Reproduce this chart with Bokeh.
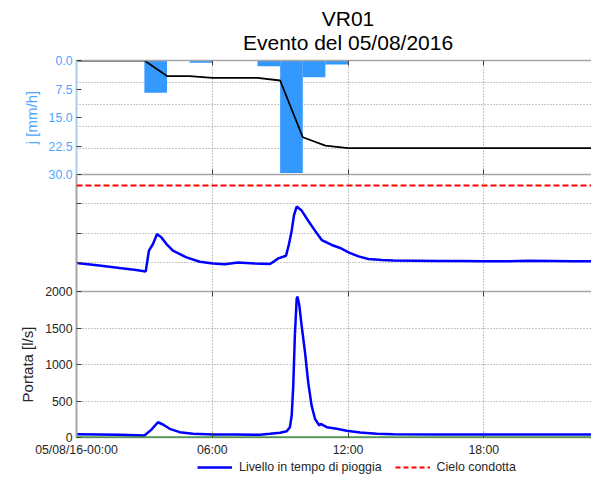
from bokeh.plotting import figure
from bokeh.layouts import column
from bokeh.models import (Range1d, LinearAxis, FixedTicker, Grid, Label, Legend,
                          LegendItem, ColumnDataSource, Span, PrintfTickFormatter,
                          CustomLabelingPolicy, CustomJSTickFormatter)
from bokeh.embed import file_html
from bokeh.resources import INLINE

# ---- time axis: hours from 05/08/16 00:00 ----
x_ticks = [0, 6, 12, 18, 24]
x_tick_labels = ["05/08/16-00:00", "06:00", "12:00", "18:00", "06/08/16-00:00"]
title_lines = ["VR01", "Evento del 05/08/2016"]

# ---- rainfall: hourly intensity [mm/h] ----
rain_start_h = [3, 5, 8, 9, 10, 11]
rain_mm_h = [8.5, 0.6, 1.5, 29.6, 4.4, 1.05]
rain_ticks = [0, 7.5, 15, 22.5, 30]

# ---- cumulative rainfall [mm] ----
cum_t = [0, 3, 4, 5, 6, 7, 8, 9, 10, 11, 12, 24]
cum_mm = [0, 0, 3.55, 3.55, 3.95, 3.95, 3.95, 4.56, 17.5, 19.4, 20.0, 20.0]
cum_ticks = [5, 10, 15, 20]

# ---- water level in wet weather [m] ----
level_t = [0, 1.0, 1.9, 2.64, 3.06, 3.2, 3.38, 3.56, 3.75, 4.0, 4.26, 4.86, 5.45,
           6.04, 6.55, 7.14, 7.88, 8.55, 8.75, 8.92, 9.26, 9.39, 9.51, 9.61, 9.73,
           9.95, 10.24, 10.54, 10.84, 11.28, 11.65, 12.02, 12.46, 12.9, 13.49, 14,
           15, 16, 17, 18, 19, 20, 21, 22, 23, 24]
level_m = [0.487, 0.445, 0.401, 0.367, 0.343, 0.697, 0.812, 0.984, 0.925, 0.80,
           0.697, 0.583, 0.509, 0.48, 0.465, 0.497, 0.48, 0.47, 0.52, 0.566, 0.612,
           0.81, 1.04, 1.30, 1.452, 1.383, 1.21, 1.04, 0.88, 0.795, 0.744, 0.668,
           0.60, 0.555, 0.538, 0.53, 0.525, 0.52, 0.522, 0.515, 0.518, 0.525, 0.52,
           0.515, 0.515, 0.515]
level_ticks = [0.5, 1.0, 1.5]
pipe_crown_m = 1.81

# ---- discharge [l/s] ----
flow_t = [0, 1.0, 1.9, 3.0, 3.3, 3.6, 3.82, 4.12, 4.56, 5.15, 6.04, 7.0, 8.1, 8.55,
          9.0, 9.29, 9.43, 9.51, 9.58, 9.65, 9.73, 9.76, 9.84, 9.95, 10.1, 10.24,
          10.39, 10.54, 10.73, 10.79, 11.06, 11.5, 11.94, 12.53, 13.27, 14, 16, 18,
          20, 22, 24]
flow_ls = [45, 42, 37, 27, 105, 209, 178, 119, 73, 50, 41, 40, 37, 50, 65, 86, 141,
           301, 711, 1394, 1896, 1930, 1828, 1531, 1166, 756, 437, 256, 164, 187,
           141, 119, 92, 68, 50, 45, 42, 40, 42, 40, 40]
flow_ticks = [0, 500, 1000, 1500, 2000]

FONT = "Liberation Sans"
GRID = "#8c8c8c"
BORDER = "#a6a6a6"
TICKC = "#404040"
TEXT = "#262626"
RAIN = "#3399ff"
RAIN_TEXT = "#4da6ff"
OVERLAP = 8   # room kept for tick labels that sit on a panel boundary

xr = Range1d(0, 22.76)

# tick marks only: drop every label of the axis
HIDE_LABELS_JS = """
try {
  for (const i of [...indices.ones()]) indices.unset(i)
} catch (e) {}
return indices
"""


def hide_labels(ax):
    ax.major_label_policy = CustomLabelingPolicy(code=HIDE_LABELS_JS)
    ax.formatter = CustomJSTickFormatter(code="return ''")
    ax.major_label_standoff = 0


def make_fig(frame_h, y_range, top=0, bottom=0, pull_up=0, x_grid=True):
    p = figure(frame_width=515, frame_height=frame_h, x_range=xr, y_range=y_range,
               x_axis_location=None, y_axis_location=None, title=None,
               min_border_left=76, min_border_right=0, min_border_top=top,
               min_border_bottom=bottom, toolbar_location=None, output_backend="svg",
               outline_line_color=None, background_fill_alpha=0, border_fill_alpha=0,
               margin=(-pull_up, 0, 0, 0))
    p.center = []   # grids are added explicitly below
    if x_grid:
        p.add_layout(Grid(dimension=0, ticker=FixedTicker(ticks=x_ticks[1:4]),
                          grid_line_color=GRID, grid_line_dash="1 2"))
    return p


def edge_axis(p, place, labels=False):
    ax = LinearAxis(ticker=FixedTicker(ticks=x_ticks if labels else x_ticks[1:4]))
    ax.major_tick_in = 5
    ax.major_tick_out = 0
    ax.minor_tick_in = 0
    ax.minor_tick_out = 0
    ax.axis_line_color = BORDER
    ax.axis_line_width = 1.5
    ax.major_tick_line_color = TICKC
    ax.major_label_text_font = FONT
    ax.major_label_text_font_size = "12.3px"
    ax.major_label_text_color = TEXT
    if labels:
        ax.major_label_overrides = dict(zip(x_ticks, x_tick_labels))
        ax.major_label_standoff = 5
    else:
        hide_labels(ax)
    p.add_layout(ax, place)
    return ax


def left_axis(p, ticks, color, line_color, show_labels=True, label=None):
    ax = LinearAxis(ticker=FixedTicker(ticks=ticks))
    ax.major_tick_in = 5
    ax.major_tick_out = 0
    ax.minor_tick_in = 0
    ax.minor_tick_out = 0
    ax.axis_line_color = line_color
    ax.axis_line_width = 2
    ax.major_tick_line_color = TICKC
    ax.major_label_text_font = FONT
    ax.major_label_text_color = color
    ax.major_label_text_font_size = "12.3px"
    if show_labels:
        ax.major_label_standoff = 4
    else:
        hide_labels(ax)
    if label:
        ax.axis_label = label
        ax.axis_label_text_font = FONT
        ax.axis_label_text_font_size = "15px"
        ax.axis_label_text_font_style = "normal"
        ax.axis_label_text_color = color
        ax.axis_label_standoff = 6
    p.add_layout(ax, "left")
    return ax


# ---- title strip (y in pixels above the strip bottom) ----
p0 = make_fig(60, Range1d(0, 60), x_grid=False)
for text, y_px in zip(title_lines, [42.2, 18.2]):
    p0.add_layout(Label(x=12, y=y_px, text=text, text_align="center",
                        text_baseline="alphabetic", text_font=FONT,
                        text_font_size="21px", text_color="black"))

# ---- panel 1: rainfall (inverted axis) and cumulative rainfall ----
p1 = make_fig(114, Range1d(30, 0), top=20, bottom=OVERLAP, pull_up=20)
p1.extra_y_ranges = {"cum": Range1d(26, 0)}
p1.add_layout(Grid(dimension=1, ticker=FixedTicker(ticks=cum_ticks), y_range_name="cum",
                   grid_line_color=GRID, grid_line_dash="1 2"))
p1.quad(left=rain_start_h, right=[s + 1 for s in rain_start_h], top=0, bottom=rain_mm_h,
        fill_color=RAIN, line_color=None)
p1.line(cum_t, cum_mm, y_range_name="cum", line_color="black", line_width=1.8)
ax1 = left_axis(p1, rain_ticks, RAIN_TEXT, "#a9cdef", label="j [mm/h]")
ax1.formatter = PrintfTickFormatter(format="%.1f")
edge_axis(p1, "below")
edge_axis(p1, "above")

# ---- panel 2: water level ----
p2 = make_fig(117, Range1d(0, 2), pull_up=OVERLAP)
p2.add_layout(Grid(dimension=1, ticker=FixedTicker(ticks=level_ticks),
                   grid_line_color=GRID, grid_line_dash="1 2"))
p2.line(level_t, level_m, line_color="blue", line_width=2.5)
p2.add_layout(Span(location=pipe_crown_m, dimension="width", line_color="red",
                   line_width=2, line_dash="6 3"))
left_axis(p2, level_ticks, TEXT, BORDER, show_labels=False)

# ---- panel 3: discharge ----
p3 = make_fig(146, Range1d(0, 2000), top=OVERLAP, bottom=40, pull_up=OVERLAP)
p3.add_layout(Grid(dimension=1, ticker=FixedTicker(ticks=flow_ticks[1:4]),
                   grid_line_color=GRID, grid_line_dash="1 2"))
p3.add_layout(Span(location=0, dimension="width", line_color="#008000", line_width=2))
p3.line(flow_t, flow_ls, line_color="blue", line_width=2.5)
left_axis(p3, flow_ticks, TEXT, BORDER, label="Portata [l/s]")
edge_axis(p3, "below", labels=True)
edge_axis(p3, "above")

# ---- legend strip, laid over the bottom margin of panel 3 ----
p4 = make_fig(22, Range1d(0, 1), pull_up=22, x_grid=False)
# legend-only renderers: one point with no value, so nothing is drawn in the strip
legend_src = ColumnDataSource(dict(x=[0.0, 0.0], y=[float("nan"), float("nan")]))
r_level = p4.line("x", "y", source=legend_src, line_color="blue", line_width=2.5)
r_crown = p4.line("x", "y", source=legend_src, line_color="red", line_width=2,
                  line_dash="5 3")
legend = Legend(items=[LegendItem(label="Livello in tempo di pioggia", renderers=[r_level]),
                       LegendItem(label="Cielo condotta", renderers=[r_crown])],
                orientation="horizontal", location=(121, 3), glyph_width=35,
                glyph_height=14, label_height=14, label_standoff=7, spacing=13,
                padding=0, margin=0, border_line_color=None, background_fill_alpha=0,
                label_text_font=FONT, label_text_font_size="12.4px", label_text_color=TEXT)
p4.add_layout(legend)

layout = column(p0, p1, p2, p3, p4, spacing=0)
open("out.html", "w").write(file_html(layout, INLINE))
